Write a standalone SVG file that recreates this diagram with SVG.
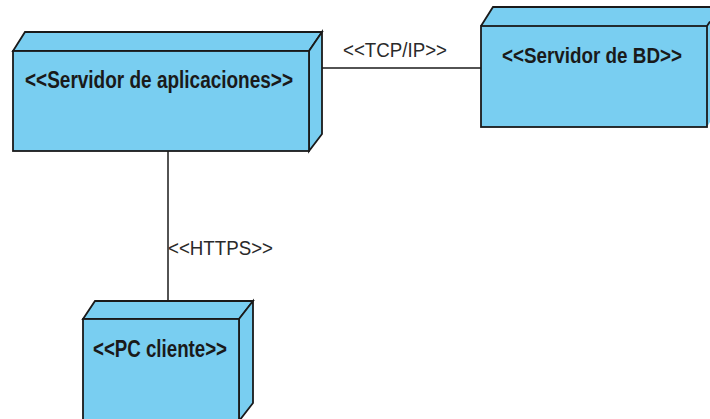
<svg xmlns="http://www.w3.org/2000/svg" width="710" height="419" viewBox="0 0 710 419">
  <style>
    .face { fill: #79CEF1; stroke: #1a1a1a; stroke-width: 1.8; stroke-linejoin: miter; }
    .fill { fill: #79CEF1; stroke: none; }
    .name { font-family: "Liberation Sans", Arial, sans-serif; font-weight: bold; font-size: 23px; fill: #1a1a1a; }
    .edge { stroke: #1a1a1a; stroke-width: 1.5; fill: none; }
    .rim { stroke: #1a1a1a; stroke-width: 1.8; fill: none; }
    .tag { font-family: "Liberation Sans", Arial, sans-serif; font-size: 20px; fill: #2a2a2a; }
  </style>
  <rect width="710" height="419" fill="#ffffff"/>

  <!-- links between nodes -->
  <g id="connectors">
    <line class="edge" x1="322" y1="68" x2="481" y2="68"/>
    <text class="tag" x="343" y="57" textLength="104" lengthAdjust="spacingAndGlyphs">&lt;&lt;TCP/IP&gt;&gt;</text>
    <line class="edge" x1="168" y1="151" x2="168" y2="301"/>
    <text class="tag" x="168" y="255" textLength="105" lengthAdjust="spacingAndGlyphs">&lt;&lt;HTTPS&gt;&gt;</text>
  </g>

  <!-- application server node -->
  <g id="servidor-aplicaciones">
    <polygon class="face" points="13,51 25,32 322,32 309,51"/>
    <polygon class="face" points="309,51 322,32 322,134 309,151"/>
    <rect class="face" x="13" y="51" width="296" height="100"/>
    <text class="name" x="25" y="88" textLength="268" lengthAdjust="spacingAndGlyphs">&lt;&lt;Servidor de aplicaciones&gt;&gt;</text>
  </g>

  <!-- database server node (its depth runs past the right edge) -->
  <g id="servidor-bd">
    <polygon class="fill" points="481,26 493,7 710,7 710,122 707,127"/>
    <path class="rim" d="M481,26 L493,7 L710,7 M707,26 L710,21.6"/>
    <rect class="face" x="481" y="26" width="226" height="101"/>
    <text class="name" x="502" y="63" style="font-size:21.5px" textLength="180" lengthAdjust="spacingAndGlyphs">&lt;&lt;Servidor de BD&gt;&gt;</text>
  </g>

  <!-- client PC node -->
  <g id="pc-cliente">
    <polygon class="face" points="83,319 95,301 253,301 239,319"/>
    <polygon class="face" points="239,319 253,301 253,403 239,421"/>
    <rect class="face" x="83" y="319" width="156" height="110"/>
    <text class="name" x="93" y="357" textLength="134" lengthAdjust="spacingAndGlyphs">&lt;&lt;PC cliente&gt;&gt;</text>
  </g>
</svg>
